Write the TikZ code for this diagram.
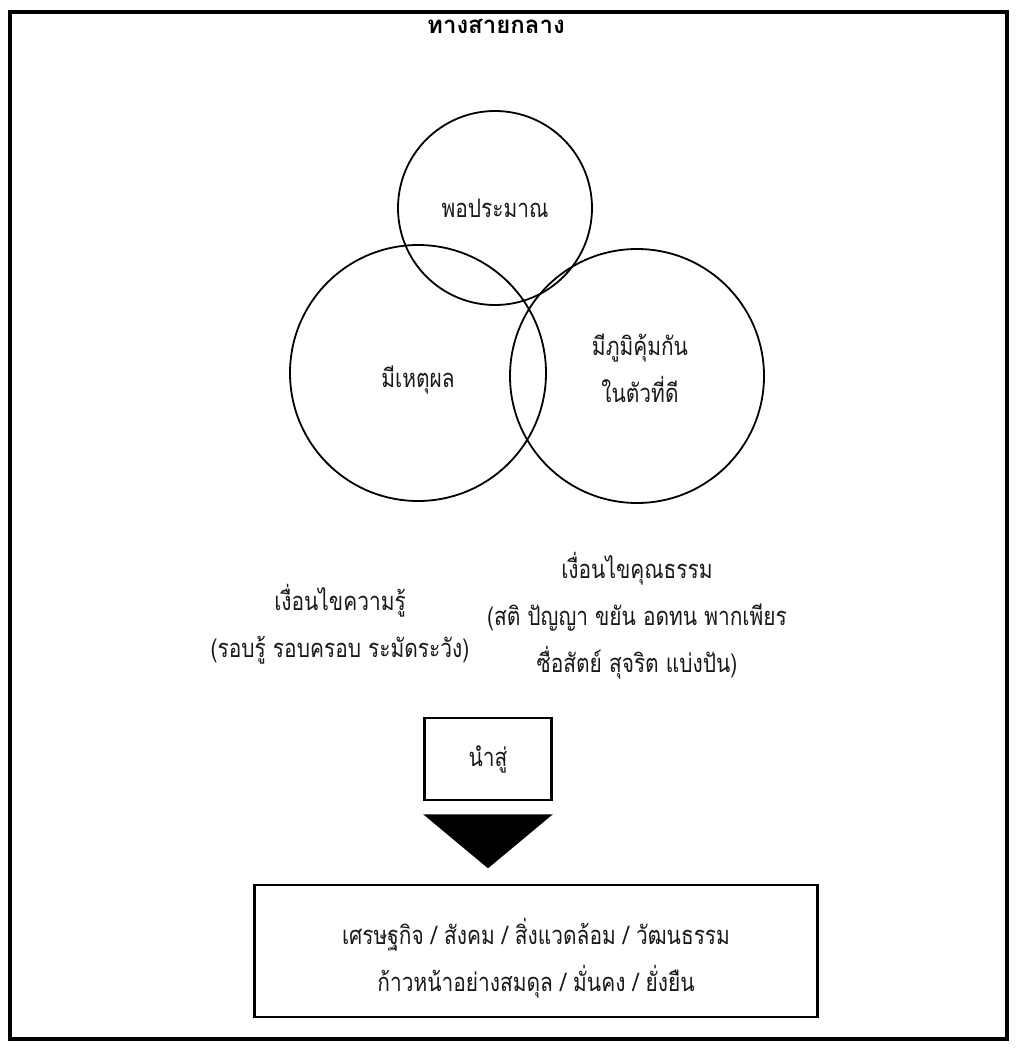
\documentclass[tikz,border=0pt]{standalone}
\usepackage{fontspec}
\newfontfamily\thaifont[Script=Thai, FakeStretch=0.82]{Loma}
\newfontfamily\thaihead[Script=Thai]{Loma}
\usetikzlibrary{shapes.geometric, positioning}
\tikzstyle{ring} = [circle, draw=black, line width=1.8pt, inner sep=0pt]
\tikzstyle{caption} = [align=center, inner sep=0pt, text=black!90, font=\thaifont\fontsize{25.5}{47}\selectfont]
\tikzstyle{frame} = [rectangle, draw=black, line width=2.6pt, align=center, inner sep=0pt, text=black!90, font=\thaifont\fontsize{25.5}{50}\selectfont]
\tikzstyle{title} = [font=\thaihead\bfseries\fontsize{24}{28}\selectfont, inner sep=0pt]

\begin{document}
\begin{tikzpicture}[x=1pt, y=-1pt, node distance=13pt]
\useasboundingbox (0,0) rectangle (1016,1048);
\draw[line width=4pt] (10,12) rectangle (1007,1039);

% Circles
\node[title] (head) at (496,26) {ทางสายกลาง};
\node[ring, minimum size=194pt] (mod) at (495,208) {};
\node[ring, minimum size=256pt] (rea) at (418,373) {};
\node[ring, minimum size=254pt] (imm) at (637,376) {};
\node[caption] (tmod) at (mod.center) {พอประมาณ};
\node[caption, yshift=-7pt] (trea) at (rea.center) {มีเหตุผล};
\node[caption, xshift=3pt, yshift=8pt] (timm) at (imm.center) {มีภูมิคุ้มกัน\\ในตัวที่ดี};

% Conditions
\node[caption] (know) at (340,624) {เงื่อนไขความรู้\\(รอบรู้ รอบครอบ ระมัดระวัง)};
\node[caption] (moral) at (637,616) {เงื่อนไขคุณธรรม\\(สติ ปัญญา ขยัน อดทน พากเพียร\\ซื่อสัตย์ สุจริต แบ่งปัน)};

% Result
\node[frame, minimum width=127pt, minimum height=82pt] (lead) at (488,759) {นำสู่};
\node[frame, minimum width=563pt, minimum height=132pt] (goal) at (536,951) {};
\node[caption, yshift=-7pt] (tgoal) at (goal.center) {เศรษฐกิจ / สังคม / สิ่งแวดล้อม / วัฒนธรรม\\ก้าวหน้าอย่างสมดุล / มั่นคง / ยั่งยืน};

% Arrow
\coordinate[below=of lead.south west] (tl);
\coordinate[below=of lead.south east] (tr);
\coordinate[below=67pt of lead.south] (tip);
\fill (tl) -- (tr) -- (tip) -- cycle;

\end{tikzpicture}
\end{document}
